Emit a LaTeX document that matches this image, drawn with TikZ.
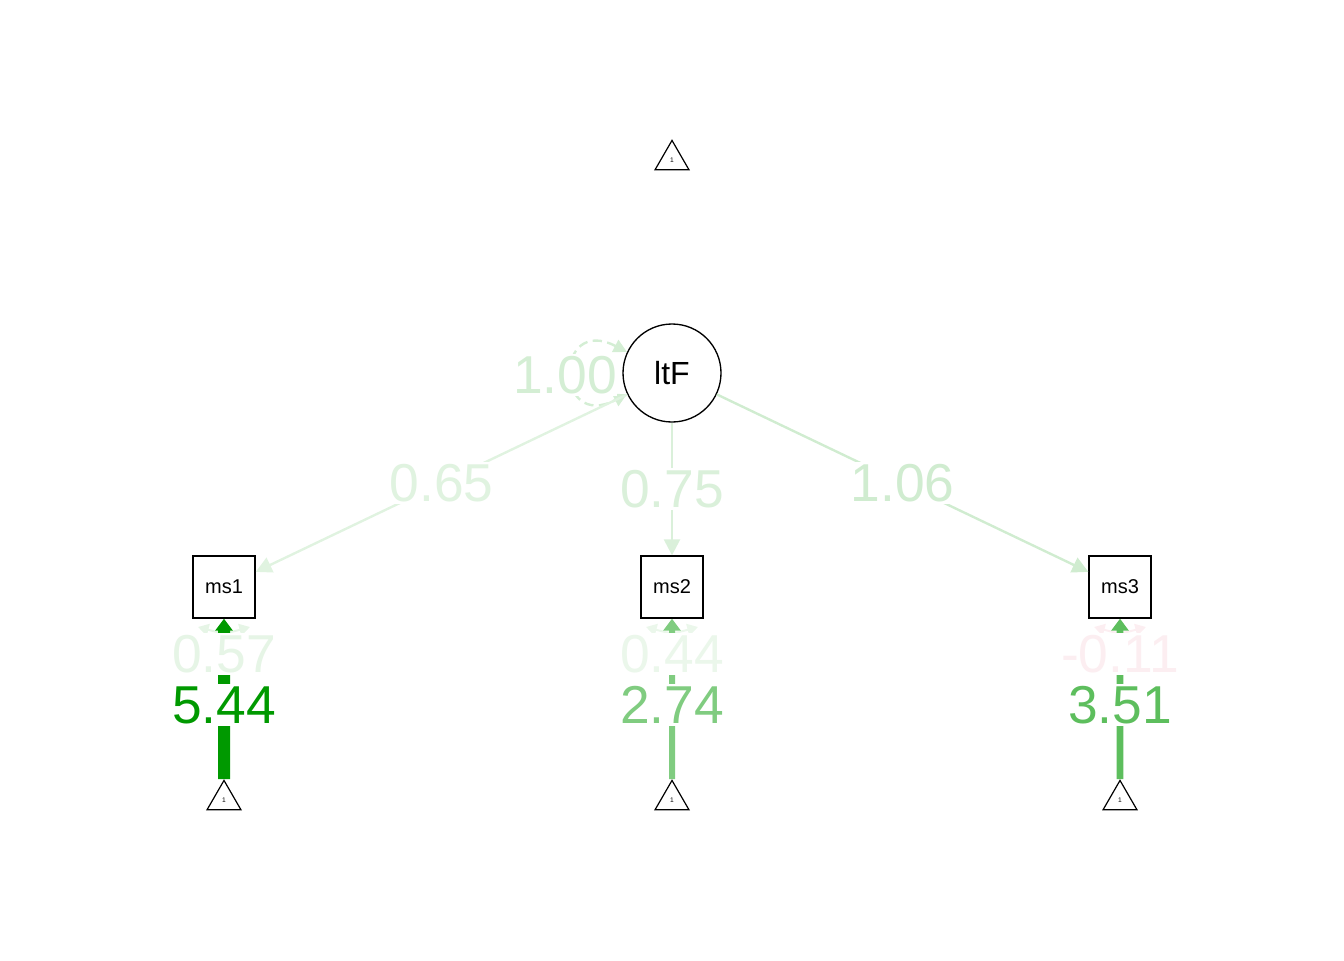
\documentclass[tikz,border=0pt]{standalone}
\usepackage{fontspec}
\setmainfont{Liberation Sans}
\usetikzlibrary{shapes.geometric, arrows.meta}

\definecolor{loadA}{HTML}{E0F3E0}
\definecolor{loadB}{HTML}{DAF0DA}
\definecolor{loadC}{HTML}{D0ECD0}
\definecolor{varF}{HTML}{D4EED4}
\definecolor{resA}{HTML}{E6F5E6}
\definecolor{resB}{HTML}{EBF7EB}
\definecolor{resC}{HTML}{FCEEF1}
\definecolor{intA}{HTML}{009900}
\definecolor{intB}{HTML}{80CC80}
\definecolor{intC}{HTML}{5DBE5D}

\begin{document}
\begin{tikzpicture}[
            x=0.75pt, y=-0.75pt,
            manifest/.style={rectangle, draw, line width=1pt, minimum size=46.5pt, inner sep=0pt, font=\fontsize{15}{18}\selectfont},
            latent/.style={circle, draw, line width=1pt, minimum size=73.5pt, inner sep=0pt, font=\fontsize{24}{28}\selectfont},
            const/.style={regular polygon, regular polygon sides=3, draw, line width=0.9pt, minimum size=29.4pt, inner sep=0pt, font=\fontsize{5}{6}\selectfont},
            load/.style={line width=1.8pt, -{Triangle[length=12pt, width=12pt]}},
            icept/.style={-{Triangle[length=9pt, width=12.75pt]}},
            resid/.style={line width=1.5pt, {Triangle[length=8pt, width=9pt]}-{Triangle[length=8pt, width=9pt]}},
            est/.style={fill=white, inner xsep=0pt, inner ysep=2pt, text height=27.5pt, text depth=0pt, font=\fontsize{40}{44}\selectfont},
        ]
            \useasboundingbox (0,0) rectangle (1344,960);

            % nodes
            \node[const] (c0) at (672,160) {1};
            \node[latent] (ltF) at (672,373) {ltF};
            \node[manifest] (ms1) at (224,587) {ms1};
            \node[manifest] (ms2) at (672,587) {ms2};
            \node[manifest] (ms3) at (1120,587) {ms3};
            \node[const] (c1) at (224,800) {1};
            \node[const] (c2) at (672,800) {1};
            \node[const] (c3) at (1120,800) {1};

            % variance of ltF
            \draw[varF, line width=1.8pt, dash pattern=on 7pt off 4pt, {Triangle[length=10pt, width=10pt]}-{Triangle[length=10pt, width=10pt]}]
                (ltF.155) .. controls (554,314) and (554,432) .. (ltF.205);
            \node[est, text=varF] (vltF) at (565,375) {1.00};

            % loadings
            \draw[load, loadA] (ltF) -- (ms1) node[est, midway, text=loadA] {0.65};
            \draw[load, loadB] (ltF) -- (ms2) node[est, midway, text=loadB] {0.75};
            \draw[load, loadC] (ltF) -- (ms3) node[est, midway, text=loadC] {1.06};

            % residuals
            \draw[resid, resA] (198,627) .. controls (224,634) and (224,634) .. (250,627);
            \draw[resid, resB] (646,627) .. controls (672,634) and (672,634) .. (698,627);
            \draw[resid, resC] (1094,627) .. controls (1120,634) and (1120,634) .. (1146,627);

            % intercepts
            \draw[icept, intA, line width=9pt] (c1.north) -- (ms1.south) node[est, pos=0.46, text=intA] {5.44};
            \draw[icept, intB, line width=4.5pt] (c2.north) -- (ms2.south) node[est, pos=0.46, text=intB] {2.74};
            \draw[icept, intC, line width=5.2pt] (c3.north) -- (ms3.south) node[est, pos=0.46, text=intC] {3.51};

            \node[est, text=resA] (rms1) at (224,654) {0.57};
            \node[est, text=resB] (rms2) at (672,654) {0.44};
            \node[est, text=resC] (rms3) at (1120,654) {-0.11};
        \end{tikzpicture}
\end{document}
